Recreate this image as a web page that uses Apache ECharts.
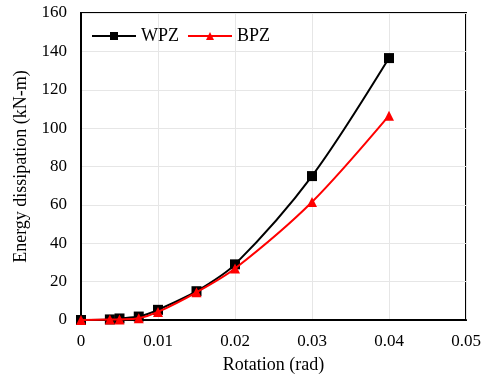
<!DOCTYPE html>
<html><head><meta charset="utf-8">
<script src="https://cdn.jsdelivr.net/npm/echarts@6/dist/echarts.min.js"></script>
<style>html,body{margin:0;padding:0;background:#fff}#c{width:485px;height:379px}</style>
</head><body><div id="c"></div>
<script>
var rotation = [0, 0.00375, 0.005, 0.0075, 0.01, 0.015, 0.02, 0.03, 0.04];
var wpz = [0, 0.3, 0.8, 1.8, 5.3, 15, 29, 75, 136.5];
var bpz = [0, 0.2, 0.3, 0.9, 4.2, 14.4, 26.8, 61.5, 106.5];
var F = '"Liberation Serif","Times New Roman",serif';
function pairs(x, y){ return x.map(function(v,i){return [v, y[i]];}); }
var chart = echarts.init(document.getElementById('c'));
chart.setOption({
  animation:false,
  grid:{left:81,right:19,top:13,bottom:58,show:true,borderColor:'#000',borderWidth:2,backgroundColor:'transparent'},
  legend:{left:86,top:22,itemWidth:44,itemHeight:10,itemGap:8,
    textStyle:{fontFamily:F,fontSize:18,color:'#000'},
    data:['WPZ','BPZ']},
  xAxis:{type:'value',min:0,max:0.05,interval:0.01,
    name:'Rotation (rad)',nameLocation:'middle',nameGap:36,
    nameTextStyle:{fontFamily:F,fontSize:18,color:'#000'},
    axisLine:{show:true,lineStyle:{color:'#000',width:2}},axisTick:{show:false},
    axisLabel:{fontFamily:F,fontSize:17,color:'#000',margin:13},
    splitLine:{show:true,lineStyle:{color:'#e6e6e6',width:1}}},
  yAxis:{type:'value',min:0,max:160,interval:20,
    name:'Energy dissipation (kN-m)',nameLocation:'middle',nameGap:51,
    nameTextStyle:{fontFamily:F,fontSize:18,color:'#000'},
    axisLine:{show:true,lineStyle:{color:'#000',width:2}},axisTick:{show:false},
    axisLabel:{fontFamily:F,fontSize:17,color:'#000',margin:14},
    splitLine:{show:true,lineStyle:{color:'#e6e6e6',width:1}}},
  series:[
    {name:'WPZ',type:'line',smooth:0.3,data:pairs(rotation,wpz),
     symbol:'rect',symbolSize:10,itemStyle:{color:'#000'},lineStyle:{color:'#000',width:2},z:2},
    {name:'BPZ',type:'line',smooth:0.3,data:pairs(rotation,bpz),
     symbol:'triangle',symbolSize:10,itemStyle:{color:'#ff0000'},lineStyle:{color:'#ff0000',width:2},z:3}
  ]
});
</script></body></html>
